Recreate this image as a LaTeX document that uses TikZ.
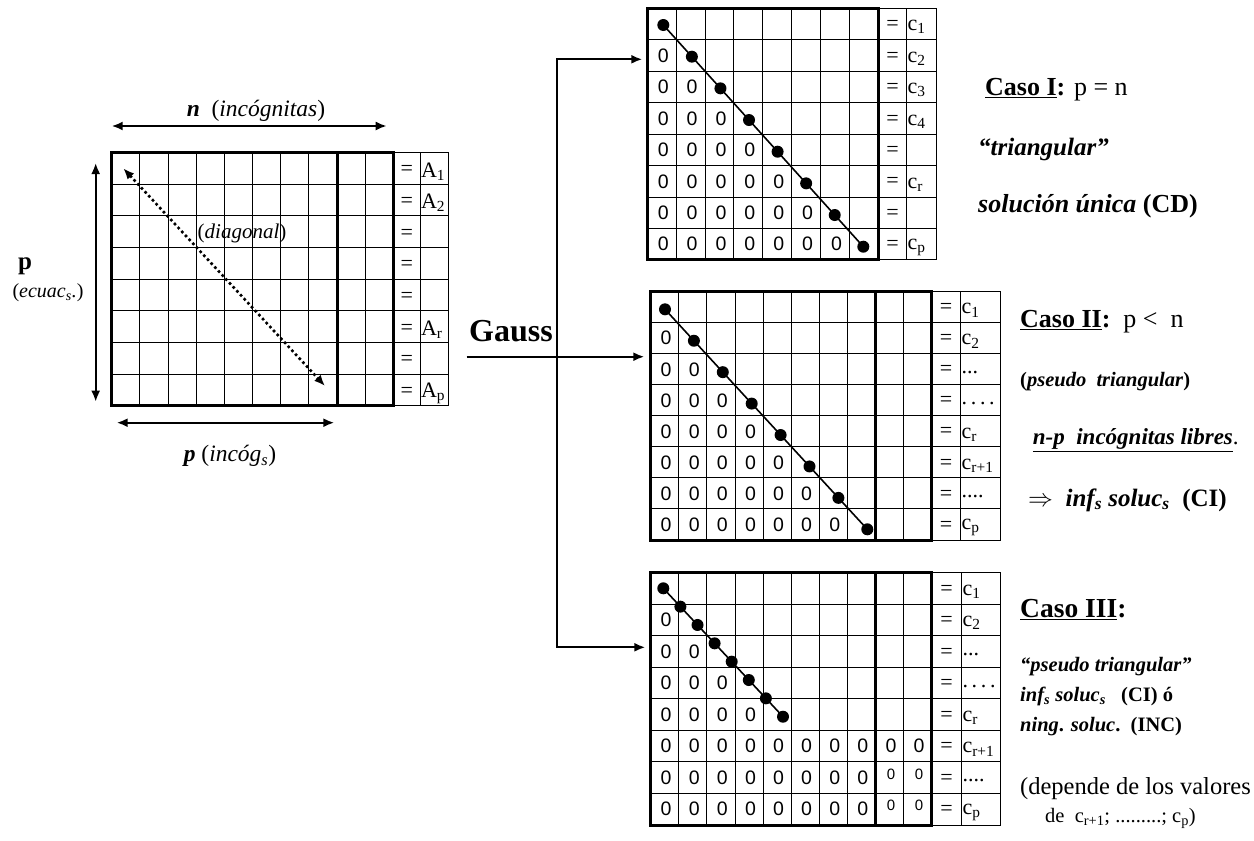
\documentclass[tikz,border=0pt]{standalone}
\usepackage{fontspec}
\setmainfont{Liberation Serif}
\newfontfamily\zerofont{Liberation Sans}
\usetikzlibrary{arrows.meta,fit}
\tikzset{
  gridline/.style={line width=1pt},
  frame/.style={line width=3pt},
  arr/.style={line width=2pt,-{Latex[length=11pt,width=9pt]}},
  darr/.style={line width=2pt,{Latex[length=11pt,width=9pt]}-{Latex[length=11pt,width=9pt]}},
  zero/.style={font=\zerofont\fontsize{19.5}{19.5}\selectfont, inner sep=0pt},
  szero/.style={font=\zerofont\fontsize{15}{15}\selectfont, inner sep=0pt},
  lab/.style={font=\fontsize{22}{22}\selectfont, inner sep=0pt},
  dotnode/.style={circle, fill=black, inner sep=0pt, minimum size=12pt},
  txt/.style={anchor=west, inner sep=0pt, font=\fontsize{26}{28}\selectfont},
  stxt/.style={anchor=west, inner sep=0pt, font=\fontsize{20.5}{22}\selectfont},
  ltxt/.style={inner sep=0pt, font=\fontsize{23.5}{25}\selectfont},
  diag/.style={line width=1.6pt},
}
\newcommand\tdots{...}
\newcommand\qdots{.\,.\,.\,.}
\newcommand\fdots{....}
% grid: x0 y0 ncols nrows cw rh  (lines snapped to pixel centres)
\newcommand\mgrid[6]{%
  \foreach \i in {0,...,#3}{\draw[gridline] ({floor(#1+\i*#5)+0.5},{floor(#2)+0.5}) -- ({floor(#1+\i*#5)+0.5},{floor(#2+#4*#6)+0.5});}
  \foreach \j in {0,...,#4}{\draw[gridline] ({floor(#1)+0.5},{floor(#2+\j*#6)+0.5}) -- ({floor(#1+#3*#5)+0.5},{floor(#2+\j*#6)+0.5});}
}
% right cells: xa xb xc y0 nrows rh
\newcommand\rcells[6]{%
  \foreach \j in {0,...,#5}{\draw[gridline] (#1,{floor(#4+\j*#6)+0.5}) -- (#3,{floor(#4+\j*#6)+0.5});}
  \draw[gridline] (#1,{floor(#4)+0.5}) -- (#1,{floor(#4+#5*#6)+0.5});
  \draw[gridline] (#2,{floor(#4)+0.5}) -- (#2,{floor(#4+#5*#6)+0.5});
  \draw[gridline] (#3,{floor(#4)+0.5}) -- (#3,{floor(#4+#5*#6)+0.5});
}
\begin{document}
\begin{tikzpicture}[x=1pt,y=-1pt]
\fill[white] (0,0) rectangle (1254,841);
\useasboundingbox (0,0) rectangle (1254,841);

% ================= left matrix =================
\mgrid{111.7}{152.3}{10}{8}{28.16}{31.71}
\rcells{393.5}{420.5}{448.5}{152.3}{8}{31.71}
\draw[frame] (111.5,152.5) rectangle (393.5,405.5);
\draw[frame] (337.5,152.5) -- (337.5,405.5);
\node[fit={(111.5,152.5) (393.5,405.5)}, inner sep=0pt] (M0) {};
\foreach \r/\t in {1/A\textsubscript{1},2/A\textsubscript{2},3/{},4/{},5/{},6/A\textsubscript{r},7/{},8/A\textsubscript{p}}{
  \node[lab] (eA-\r) at (406.8,{152.3+(\r-0.42)*31.71}) {=};
  \node[lab,anchor=west] (A-\r) at (420.8,{152.3+(\r-0.4)*31.71}) {\t};
}
\coordinate (na) at (111.7,126); \coordinate (nb) at (386.7,126);
\draw[darr] (na) -- (nb);
\node[ltxt] (nlab) at (256,111) {\textbf{\textit{n}}\ \ (\textit{incógnitas})};
\coordinate (va) at (95.7,163); \coordinate (vb) at (95.7,401.7);
\draw[darr] (va) -- (vb);
\node[inner sep=0pt, font=\fontsize{25}{25}\selectfont\bfseries] (plab) at (25,266) {p};
\node[inner sep=0pt, font=\fontsize{20}{20}\selectfont] (elab) at (48,293) {(\textit{ecuac\textsubscript{s}.})};
\coordinate (ba) at (116.7,422.7); \coordinate (bb) at (334.3,422.7);
\draw[darr] (ba) -- (bb);
\node[ltxt] (plab2) at (230,456) {\textbf{\textit{p}} (\textit{incóg\textsubscript{s}})};
\coordinate (da) at (123.3,168.3); \coordinate (db) at (325,386);
\draw[darr, line width=2.6pt, dash pattern=on 2.6pt off 2.8pt] (da) -- (db);
\node[inner sep=0pt, font=\fontsize{21}{21}\selectfont] (dlab) at (242,233) {(\textit{diagonal})};

% ================= Case I =================
\mgrid{647.3}{8.3}{8}{8}{28.875}{31.46}
\rcells{878.5}{906.5}{936.5}{8.3}{8}{31.46}
\draw[frame] (647.5,8.5) rectangle (878.5,259.5);
\node[fit={(647.5,8.5) (878.5,259.5)}, inner sep=0pt] (M1) {};
\foreach \r [evaluate=\r as \rr using int(\r-1)] in {2,...,8}{
  \foreach \c in {1,...,\rr}{
    \node[zero] (zI-\r-\c) at ({647.3+(\c-0.45)*28.875},{8.3+(\r-0.5)*31.46}) {0};
  }
}
\foreach \r/\t in {1/c\textsubscript{1},2/c\textsubscript{2},3/c\textsubscript{3},4/c\textsubscript{4},5/{},6/c\textsubscript{r},7/{},8/c\textsubscript{p}}{
  \node[lab] (eI-\r) at (892.5,{8.3+(\r-0.45)*31.46}) {=};
  \node[lab,anchor=west] (cI-\r) at (907.5,{8.3+(\r-0.4)*31.46}) {\t};
}
\foreach \k in {1,...,8}{
  \node[dotnode] (dI-\k) at ({663.3+(\k-1)*200/7},{25+(\k-1)*221.7/7}) {};
}
\draw[diag] (dI-1.center) -- (dI-8.center);

% ================= Case II =================
\mgrid{650.7}{291.7}{10}{8}{28.1}{31.04}
\rcells{931.5}{960.5}{1000.5}{291.7}{8}{31.04}
\draw[frame] (650.5,291.5) rectangle (931.5,540.5);
\draw[frame] (875.5,291.5) -- (875.5,540.5);
\node[fit={(650.5,291.5) (931.5,540.5)}, inner sep=0pt] (M2) {};
\foreach \r [evaluate=\r as \rr using int(\r-1)] in {2,...,8}{
  \foreach \c in {1,...,\rr}{
    \node[zero] (zII-\r-\c) at ({650.7+(\c-0.45)*28.1},{291.7+(\r-0.5)*31.04}) {0};
  }
}
\foreach \r/\t in {1/c\textsubscript{1},2/c\textsubscript{2},3/\tdots,4/\qdots,5/c\textsubscript{r},6/c\textsubscript{r+1},7/\fdots,8/c\textsubscript{p}}{
  \node[lab] (eII-\r) at (946,{291.7+(\r-0.45)*31.04}) {=};
  \node[lab,anchor=west] (cII-\r) at (961.5,{291.7+(\r-0.4)*31.04}) {\t};
}
\foreach \k in {1,...,8}{
  \node[dotnode] (dII-\k) at ({665+(\k-1)*202.3/7},{309.3+(\k-1)*220/7}) {};
}
\draw[diag] (dII-1.center) -- (dII-8.center);

% ================= Case III =================
\mgrid{650.7}{572.7}{10}{8}{28.1}{31.54}
\rcells{931.5}{961.5}{1000.5}{572.7}{8}{31.54}
\draw[frame] (650.5,572.5) rectangle (931.5,825.5);
\draw[frame] (875.5,572.5) -- (875.5,825.5);
\node[fit={(650.5,572.5) (931.5,825.5)}, inner sep=0pt] (M3) {};
\foreach \r [evaluate=\r as \rr using int(\r-1)] in {2,...,5}{
  \foreach \c in {1,...,\rr}{
    \node[zero] (zIII-\r-\c) at ({650.7+(\c-0.45)*28.1},{572.7+(\r-0.5)*31.54}) {0};
  }
}
\foreach \c in {1,...,10}{
  \node[zero] (zIII-6-\c) at ({650.7+(\c-0.45)*28.1},{572.7+5.5*31.54}) {0};
}
\foreach \r in {7,8}{
  \foreach \c in {1,...,8}{
    \node[zero] (zIII-\r-\c) at ({650.7+(\c-0.45)*28.1},{572.7+(\r-0.5)*31.54}) {0};
  }
  \foreach \c in {9,10}{
    \node[szero] (zIII-\r-\c) at ({650.7+(\c-0.45)*28.1},{572.7+(\r-0.62)*31.54}) {0};
  }
}
\foreach \r/\t in {1/c\textsubscript{1},2/c\textsubscript{2},3/\tdots,4/\qdots,5/c\textsubscript{r},6/c\textsubscript{r+1},7/\fdots,8/c\textsubscript{p}}{
  \node[lab] (eIII-\r) at (946.5,{572.7+(\r-0.45)*31.54}) {=};
  \node[lab,anchor=west] (cIII-\r) at (962.3,{572.7+(\r-0.4)*31.54}) {\t};
}
\foreach \k in {1,...,8}{
  \node[dotnode] (dIII-\k) at ({663.3+(\k-1)*119.7/7},{588.3+(\k-1)*128.4/7}) {};
}
\draw[diag] (dIII-1.center) -- (dIII-8.center);

% ================= Gauss connectors =================
\node[inner sep=0pt, font=\fontsize{32}{32}\selectfont\bfseries] (gauss) at (511,331) {Gauss};
\coordinate (g0) at (466.7,356.7);
\coordinate (t1) at (556.7,59.3);
\coordinate (t3) at (556.7,647.3);
\draw[arr, shorten >=5pt] (t1) -- (t3) -- (t3 -| M3.west);
\draw[arr, shorten >=5pt, line cap=rect] (t1) -- (t1 -| M1.west);
\draw[arr, shorten >=6pt] (g0) -- (g0 -| M2.west);

% ================= texts =================
\node[txt] (c1a) at (985,89.3) {\underline{\textbf{Caso I}}\textbf{:} p = n};
\node[txt, font=\fontsize{25}{27}\selectfont] (c1b) at (978,149) {\textbf{\textit{“triangular”}}};
\node[txt] (c1c) at (978,206.7) {\textbf{\textit{solución única} (CD)}};

\node[txt] (c2a) at (1020,321.7) {\underline{\textbf{Caso II}}\textbf{:}\ \ p <\ \ n};
\node[stxt] (c2b) at (1020,381.7) {\textbf{(\textit{pseudo\ \ triangular})}};
\node[txt, font=\fontsize{23}{25}\selectfont] (c2c) at (1032.7,440) {\underline{\textbf{\textit{n-p\ \ incógnitas libres}}}.};
\node[txt, font=\fontsize{25}{27}\selectfont] (c2d) at (1028,500) {$\Rightarrow$\ \ \textbf{\textit{inf\textsubscript{s} soluc\textsubscript{s}}\ \ (CI)}};

\node[txt, font=\fontsize{27.5}{29}\selectfont] (c3a) at (1020,610) {\underline{\textbf{Caso III}}\textbf{:}};
\node[stxt] (c3b) at (1020,666.7) {\textbf{\textit{“pseudo triangular”}}};
\node[stxt] (c3c) at (1020,696.7) {\textbf{\textit{inf\textsubscript{s} soluc\textsubscript{s}}\ \ \ (CI) ó}};
\node[stxt] (c3d) at (1020,726.7) {\textbf{\textit{ning}. \textit{soluc}.\ \ (INC)}};
\node[txt, font=\fontsize{24.5}{26}\selectfont] (c3e) at (1020,788.3) {(depende de los valores};
\node[txt, font=\fontsize{20.5}{22}\selectfont] (c3f) at (1045,818) {de\ \ c\textsubscript{r+1}; .........; c\textsubscript{p})};
\end{tikzpicture}
\end{document}
